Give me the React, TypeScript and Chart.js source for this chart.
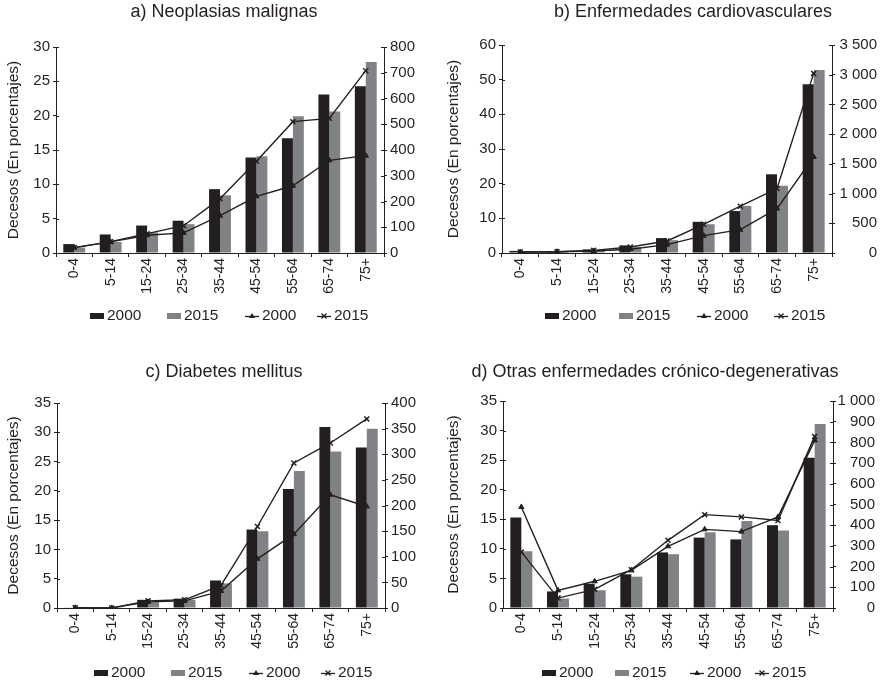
import React, { useEffect, useRef } from 'react';
import { Chart, registerables } from 'chart.js';

Chart.register(...registerables);

// ---------- DATA ----------
const categories = ['0-4', '5-14', '15-24', '25-34', '35-44', '45-54', '55-64', '65-74', '75+'];
const seriesLabels = ['2000', '2015', '2000', '2015'];
const yAxisTitle = 'Decesos (En porcentajes)';

const titleA = 'a) Neoplasias malignas';
const pctA2000 = [1.3, 2.7, 4.0, 4.7, 9.3, 13.9, 16.7, 23.1, 24.3];
const pctA2015 = [0.8, 1.6, 3.0, 4.2, 8.4, 14.1, 19.9, 20.6, 27.8];
const rateA2000 = [21, 43, 69, 78, 145, 220, 261, 360, 378];
const rateA2015 = [21, 44, 75, 106, 211, 356, 510, 523, 708];

const titleB = 'b) Enfermedades cardiovasculares';
const pctB2000 = [0.6, 0.55, 1.05, 2.2, 4.3, 9.0, 12.1, 22.7, 48.7];
const pctB2015 = [0.4, 0.4, 0.7, 1.7, 3.7, 8.3, 13.6, 19.4, 52.8];
const rateB2000 = [17, 22, 34, 62, 140, 292, 393, 747, 1618];
const rateB2015 = [17, 22, 45, 101, 202, 483, 787, 1084, 3022];

const titleC = 'c) Diabetes mellitus';
const pctC2000 = [0.1, 0.1, 1.4, 1.6, 4.7, 13.4, 20.3, 30.9, 27.4];
const pctC2015 = [0.05, 0.05, 1.0, 1.4, 4.2, 13.1, 23.4, 26.7, 30.6];
const rateC2000 = [0.5, 0.3, 12, 14, 33, 96, 144, 221, 198];
const rateC2015 = [0.3, 0.2, 14, 16, 44, 159, 283, 322, 369];

const titleD = 'd) Otras enfermedades crónico-degenerativas';
const pctD2000 = [15.3, 2.8, 4.1, 5.7, 9.4, 11.9, 11.6, 14.0, 25.4];
const pctD2015 = [9.6, 1.6, 3.0, 5.3, 9.1, 12.8, 14.7, 13.1, 31.1];
const rateD2000 = [488, 85, 129, 182, 298, 380, 369, 440, 810];
const rateD2015 = [271, 48, 90, 185, 327, 451, 440, 423, 829];

// axis ranges: [max, step]
const leftAxisA = [30, 5];
const rightAxisA = [800, 100];
const leftAxisB = [60, 10];
const rightAxisB = [3500, 500];
const leftAxisC = [35, 5];
const rightAxisC = [400, 50];
const leftAxisD = [35, 5];
const rightAxisD = [1000, 100];

// ---------- STYLE ----------
const FONT = "'Liberation Sans', Arial, Helvetica, sans-serif";
const INK = '#231f20';
const GRAY = '#808285';

function fmtThousands(v: number): string {
  return String(v).replace(/\B(?=(\d{3})+(?!\d))/g, ' ');
}

type PanelCfg = {
  title: string;
  pct2000: number[];
  pct2015: number[];
  rate2000: number[];
  rate2015: number[];
  left: number[];
  right: number[];
  box: { x: number; y: number; w: number; h: number };
  area: { l: number; r: number; t: number; b: number };
  rightFar: boolean;
  padRight: number;
  titlePos: { x: number; y: number };
  legendX: number[];
  legendY: number;
};

const panels: PanelCfg[] = [
  {
    title: titleA, pct2000: pctA2000, pct2015: pctA2015, rate2000: rateA2000, rate2015: rateA2015,
    left: leftAxisA, right: rightAxisA,
    box: { x: 0, y: 0, w: 440, h: 340 },
    area: { l: 56, r: 384, t: 47, b: 253 },
    rightFar: false, padRight: 0,
    titlePos: { x: 224, y: 12 },
    legendX: [107, 184, 262, 334], legendY: 316,
  },
  {
    title: titleB, pct2000: pctB2000, pct2015: pctB2015, rate2000: rateB2000, rate2015: rateB2015,
    left: leftAxisB, right: rightAxisB,
    box: { x: 440, y: 0, w: 441, h: 340 },
    area: { l: 502, r: 832, t: 45, b: 253 },
    rightFar: true, padRight: 4,
    titlePos: { x: 693, y: 12 },
    legendX: [562, 636, 714, 791], legendY: 316,
  },
  {
    title: titleC, pct2000: pctC2000, pct2015: pctC2015, rate2000: rateC2000, rate2015: rateC2015,
    left: leftAxisC, right: rightAxisC,
    box: { x: 0, y: 360, w: 440, h: 327 },
    area: { l: 57, r: 385, t: 403, b: 608 },
    rightFar: false, padRight: 0,
    titlePos: { x: 224, y: 372 },
    legendX: [111, 188, 266, 338], legendY: 673,
  },
  {
    title: titleD, pct2000: pctD2000, pct2015: pctD2015, rate2000: rateD2000, rate2015: rateD2015,
    left: leftAxisD, right: rightAxisD,
    box: { x: 440, y: 360, w: 441, h: 327 },
    area: { l: 503, r: 833, t: 401, b: 608 },
    rightFar: true, padRight: 6,
    titlePos: { x: 655, y: 372 },
    legendX: [559, 632, 707, 772], legendY: 673,
  },
];

const X_AXIS_H = 45;

const decoPlugin = {
  id: 'deco',
  afterDraw(chart: any, _args: any, opts: any) {
    const ctx = chart.ctx as CanvasRenderingContext2D;
    ctx.save();
    // title
    ctx.fillStyle = INK;
    ctx.font = `18px ${FONT}`;
    ctx.textAlign = 'center';
    ctx.textBaseline = 'middle';
    ctx.fillText(opts.title, opts.titleX, opts.titleY);

    // inner half of y-axis tick marks (ticks cross the axis line)
    ctx.strokeStyle = INK;
    ctx.lineWidth = 1;
    for (const id of ['y', 'y1']) {
      const s = chart.scales[id];
      if (!s) continue;
      const x = id === 'y' ? s.right : s.left;
      const dir = id === 'y' ? 1 : -1;
      s.ticks.forEach((_t: any, i: number) => {
        const py = Math.round(s.getPixelForTick(i)) + 0.5;
        ctx.beginPath();
        ctx.moveTo(x, py);
        ctx.lineTo(x + dir * 3, py);
        ctx.stroke();
      });
    }

    // legend
    ctx.font = `15.5px ${FONT}`;
    ctx.textAlign = 'left';
    ctx.textBaseline = 'middle';
    const ys = opts.legendY;
    chart.data.datasets.forEach((ds: any, i: number) => {
      const tx = opts.legendX[i];
      const mx = tx - 17;
      if (ds.type === 'bar') {
        ctx.fillStyle = ds.backgroundColor;
        ctx.fillRect(mx, ys - 3, 14, 6);
      } else {
        ctx.strokeStyle = INK;
        ctx.fillStyle = INK;
        ctx.lineWidth = 1.3;
        ctx.beginPath();
        ctx.moveTo(mx, ys + 0.5);
        ctx.lineTo(mx + 14, ys + 0.5);
        ctx.stroke();
        const cx = mx + 7;
        if (ds.pointStyle === 'triangle') {
          ctx.beginPath();
          ctx.moveTo(cx, ys - 3);
          ctx.lineTo(cx + 3, ys + 2);
          ctx.lineTo(cx - 3, ys + 2);
          ctx.closePath();
          ctx.fill();
        } else {
          ctx.beginPath();
          ctx.moveTo(cx - 2.5, ys - 2.5);
          ctx.lineTo(cx + 2.5, ys + 2.5);
          ctx.moveTo(cx + 2.5, ys - 2.5);
          ctx.lineTo(cx - 2.5, ys + 2.5);
          ctx.stroke();
        }
      }
      ctx.fillStyle = INK;
      ctx.fillText(ds.label, tx, ys);
    });
    ctx.restore();
  },
};

function PanelChart({ cfg }: { cfg: PanelCfg }) {
  const ref = useRef<HTMLCanvasElement | null>(null);

  useEffect(() => {
    if (!ref.current) return;
    const { box, area } = cfg;
    const leftW = area.l - box.x;
    const chartRight = area.r - box.x;
    const rightW = box.w - cfg.padRight - chartRight;
    const top = area.t - box.y;
    const bottom = area.b - box.y;

    const chart = new Chart(ref.current, {
      type: 'bar',
      data: {
        labels: categories,
        datasets: [
          {
            type: 'bar', label: seriesLabels[0], data: cfg.pct2000, yAxisID: 'y',
            backgroundColor: INK, borderWidth: 0, order: 2,
            categoryPercentage: 0.6, barPercentage: 1.0,
          },
          {
            type: 'bar', label: seriesLabels[1], data: cfg.pct2015, yAxisID: 'y',
            backgroundColor: GRAY, borderWidth: 0, order: 2,
            categoryPercentage: 0.6, barPercentage: 1.0,
          },
          {
            type: 'line', label: seriesLabels[2], data: cfg.rate2000, yAxisID: 'y1',
            borderColor: INK, borderWidth: 1.4, backgroundColor: INK,
            pointStyle: 'triangle', pointRadius: 3, pointBorderWidth: 1,
            pointBackgroundColor: INK, pointBorderColor: INK, tension: 0, order: 1,
          },
          {
            type: 'line', label: seriesLabels[3], data: cfg.rate2015, yAxisID: 'y1',
            borderColor: INK, borderWidth: 1.4, backgroundColor: INK,
            pointStyle: 'crossRot', pointRadius: 3.5, pointBorderWidth: 1.5,
            pointBackgroundColor: INK, pointBorderColor: INK, tension: 0, order: 1,
          },
        ] as any,
      },
      options: {
        responsive: false,
        animation: false,
        devicePixelRatio: 1,
        events: [],
        layout: {
          padding: {
            top,
            left: 0,
            right: cfg.padRight,
            bottom: box.h - bottom - X_AXIS_H,
          },
        },
        plugins: {
          legend: { display: false },
          title: { display: false },
          tooltip: { enabled: false },
          deco: {
            title: cfg.title,
            titleX: cfg.titlePos.x - box.x,
            titleY: cfg.titlePos.y - box.y,
            legendX: cfg.legendX.map((v) => v - box.x),
            legendY: cfg.legendY - box.y,
          },
        } as any,
        scales: {
          x: {
            type: 'category',
            offset: true,
            grid: {
              offset: true, drawOnChartArea: false, drawTicks: true,
              tickLength: 4, color: INK, lineWidth: 1,
            },
            border: { display: true, color: INK, width: 1 },
            ticks: {
              autoSkip: false, maxRotation: 90, minRotation: 90, padding: 1,
              color: INK, font: { family: FONT, size: 14 },
            },
            afterFit: (s: any) => { s.height = X_AXIS_H; },
          },
          y: {
            type: 'linear',
            position: 'left',
            min: 0,
            max: cfg.left[0],
            ticks: {
              stepSize: cfg.left[1], padding: 3, color: INK, autoSkip: false,
              font: { family: FONT, size: 15 },
            },
            grid: { drawOnChartArea: false, drawTicks: true, tickLength: 3, color: INK },
            border: { display: true, color: INK, width: 1 },
            title: {
              display: true, text: yAxisTitle, color: INK,
              font: { family: FONT, size: 15.5 }, padding: { top: 4, bottom: 0 },
            },
            afterFit: (s: any) => { s.width = leftW; },
          },
          y1: {
            type: 'linear',
            position: 'right',
            min: 0,
            max: cfg.right[0],
            ticks: {
              stepSize: cfg.right[1], padding: cfg.rightFar ? 2 : 3, color: INK, autoSkip: false,
              crossAlign: cfg.rightFar ? 'far' : 'near',
              font: { family: FONT, size: 15 },
              callback: (v: any) => fmtThousands(Number(v)),
            },
            grid: { drawOnChartArea: false, drawTicks: true, tickLength: 3, color: INK },
            border: { display: true, color: INK, width: 1 },
            afterFit: (s: any) => { s.width = rightW; },
          },
        },
      } as any,
      plugins: [decoPlugin as any],
    });
    return () => chart.destroy();
  }, [cfg]);

  return (
    <canvas
      ref={ref}
      width={cfg.box.w}
      height={cfg.box.h}
      style={{ position: 'absolute', left: cfg.box.x, top: cfg.box.y, width: cfg.box.w, height: cfg.box.h }}
    />
  );
}

export default function App() {
  return (
    <div style={{ position: 'absolute', left: 0, top: 0, width: 881, height: 687, background: '#ffffff', overflow: 'hidden' }}>
      {panels.map((p, i) => (
        <PanelChart key={i} cfg={p} />
      ))}
    </div>
  );
}
